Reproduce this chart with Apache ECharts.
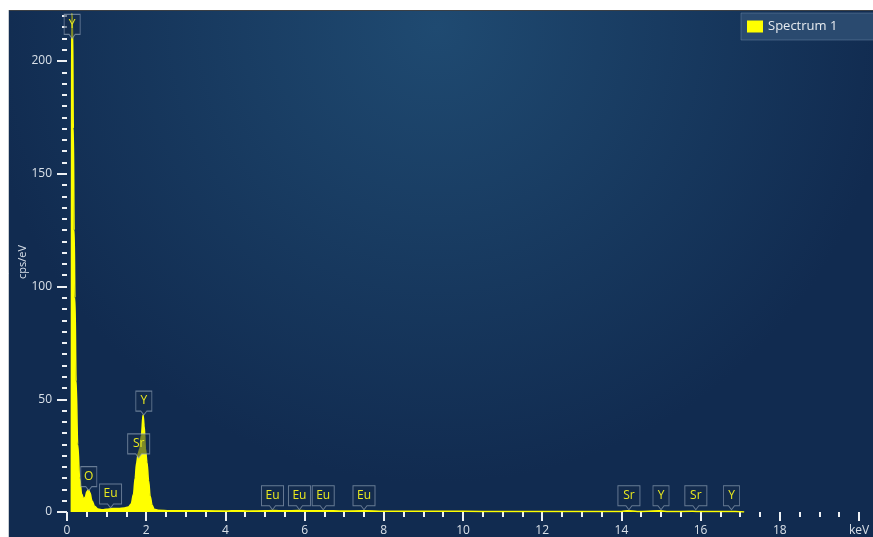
<!DOCTYPE html>
<html><head><meta charset="utf-8">
<script src="https://cdn.jsdelivr.net/npm/echarts@6/dist/echarts.min.js"></script>
<style>html,body{margin:0;padding:0;background:#fff}#c{width:873px;height:537px}</style>
</head><body><div id="c"></div>
<script>
// keV
var energy = [0.11,0.12,0.14,0.16,0.18,0.2,0.23,0.27,0.32,0.37,0.42,0.46,0.5,0.54,0.58,0.63,0.7,0.78,0.9,1.0,1.15,1.3,1.45,1.55,1.62,1.68,1.72,1.76,1.8,1.84,1.88,1.92,1.95,1.98,2.02,2.06,2.1,2.15,2.2,2.3,2.6,3.0,3.5,4.0,4.3,4.6,5.0,5.2,5.5,5.85,6.2,6.45,7.0,7.5,8.0,9.0,10.0,11.0,12.0,13.0,14.0,14.16,14.4,14.96,15.2,15.8,16.0,16.75,17.0,17.1];
// cps/eV
var counts = [0,221,218,170,125,95,58,30,15,8,5.8,6.5,9,9.8,8.5,5,2.5,1.3,1.0,1.2,1.5,1.6,1.8,2.2,3.5,8,15,22,26,28,34,43,38,28,22,14,7,3,1.2,0.8,0.6,0.5,0.5,0.45,0.6,0.45,0.5,0.7,0.5,0.7,0.5,0.6,0.4,0.5,0.35,0.3,0.3,0.25,0.25,0.2,0.25,0.6,0.25,0.5,0.2,0.3,0.2,0.25,0.15,0];
// element peak labels
var peakNames  = ['Y','O','Eu','Sr','Y','Eu','Eu','Eu','Eu','Sr','Y','Sr','Y'];
var peakEnergy = [0.13,0.55,1.1,1.81,1.94,5.19,5.87,6.47,7.5,14.19,15.0,15.88,16.78];
var peakValue  = [210,9.5,1.8,24,43,1,1,1,1,1,1,1,1];
var seriesName = 'Spectrum 1';
var xTickLabelLast = 'keV';

var pts = energy.map(function(e,i){return [e,counts[i]];});
var path1 = 'path://M0,0L16,0L16,20L11,20L8,24L5,20L0,20Z';
var path2 = 'path://M0,0L22,0L22,20L14,20L11,24L8,20L0,20Z';
var mp = peakNames.map(function(n,i){
  var w = n.length>1?22:16;
  return {name:n, coord:[peakEnergy[i],peakValue[i]],
    symbol: n.length>1?path2:path1, symbolSize:[w,24], symbolOffset:[0,-12]};
});

var chart = echarts.init(document.getElementById('c'));
var tickColor = '#eef1f4', labelColor = '#d9e0e8', font = 'Open Sans';
chart.setOption({
  animation:false,
  backgroundColor:{type:'radial',x:0.5,y:0.05,r:0.85,colorStops:[{offset:0,color:'#1f4a71'},{offset:1,color:'#112b50'}]},
  legend:{left:741,top:13,padding:[7,60,7,6],backgroundColor:'#2a4a6f',borderColor:'rgba(110,140,170,0.45)',borderWidth:1,
    itemWidth:16,itemHeight:12,icon:'rect',textStyle:{color:'#e6ebf0',fontSize:13,fontFamily:font},
    data:[{name:seriesName,itemStyle:{color:'#ffff00'}}]},
  grid:{left:67,right:14,top:-51.75,bottom:25,outerBoundsMode:'none',containLabel:false},
  xAxis:{type:'value',min:0,max:20,interval:2,offset:2,
    axisLine:{show:false},splitLine:{show:false},
    axisTick:{show:true,length:9,lineStyle:{color:tickColor,width:2}},
    minorTick:{show:true,splitNumber:4,length:5,lineStyle:{color:tickColor,width:2}},
    axisLabel:{color:labelColor,fontSize:12,fontFamily:font,margin:11,
      formatter:function(v){return v===20?xTickLabelLast:String(v);}}},
  yAxis:{type:'value',min:0,max:250,interval:50,offset:2,
    axisLine:{show:false},splitLine:{show:false},
    axisTick:{show:true,length:10,lineStyle:{color:tickColor,width:2}},
    minorTick:{show:true,splitNumber:10,length:5,lineStyle:{color:tickColor,width:2}},
    axisLabel:{color:labelColor,fontSize:12,fontFamily:font,margin:13}},
  graphic:[
    {type:'text',x:23,y:262,rotation:Math.PI/2,z:50,
      style:{text:'cps/eV',fill:labelColor,fontSize:11,fontFamily:font,align:'center',verticalAlign:'middle'}},
    {type:'rect',z:100,shape:{x:0,y:0,width:873,height:10},style:{fill:'#ffffff'}},
    {type:'rect',z:100,shape:{x:0,y:0,width:9,height:537},style:{fill:'#ffffff'}},
    {type:'line',z:100,shape:{x1:9,y1:10.5,x2:873,y2:10.5},style:{stroke:'#3b3f44',lineWidth:1}},
    {type:'line',z:100,shape:{x1:8.5,y1:10,x2:8.5,y2:537},style:{stroke:'#c8cdd2',lineWidth:1}}
  ],
  series:[{
    name:seriesName,type:'line',data:pts,showSymbol:false,smooth:0.35,smoothMonotone:'x',
    color:'#ffff00',lineStyle:{color:'#ffff00',width:1.5},areaStyle:{color:'#ffff00',opacity:1},
    markPoint:{data:mp,
      itemStyle:{color:'rgba(22,44,74,0.55)',borderColor:'rgba(150,168,188,0.65)',borderWidth:1},
      label:{show:true,position:'inside',offset:[0,-2],formatter:'{b}',color:'#eaea1e',fontSize:12,fontFamily:font}}
  }]
});
</script></body></html>
